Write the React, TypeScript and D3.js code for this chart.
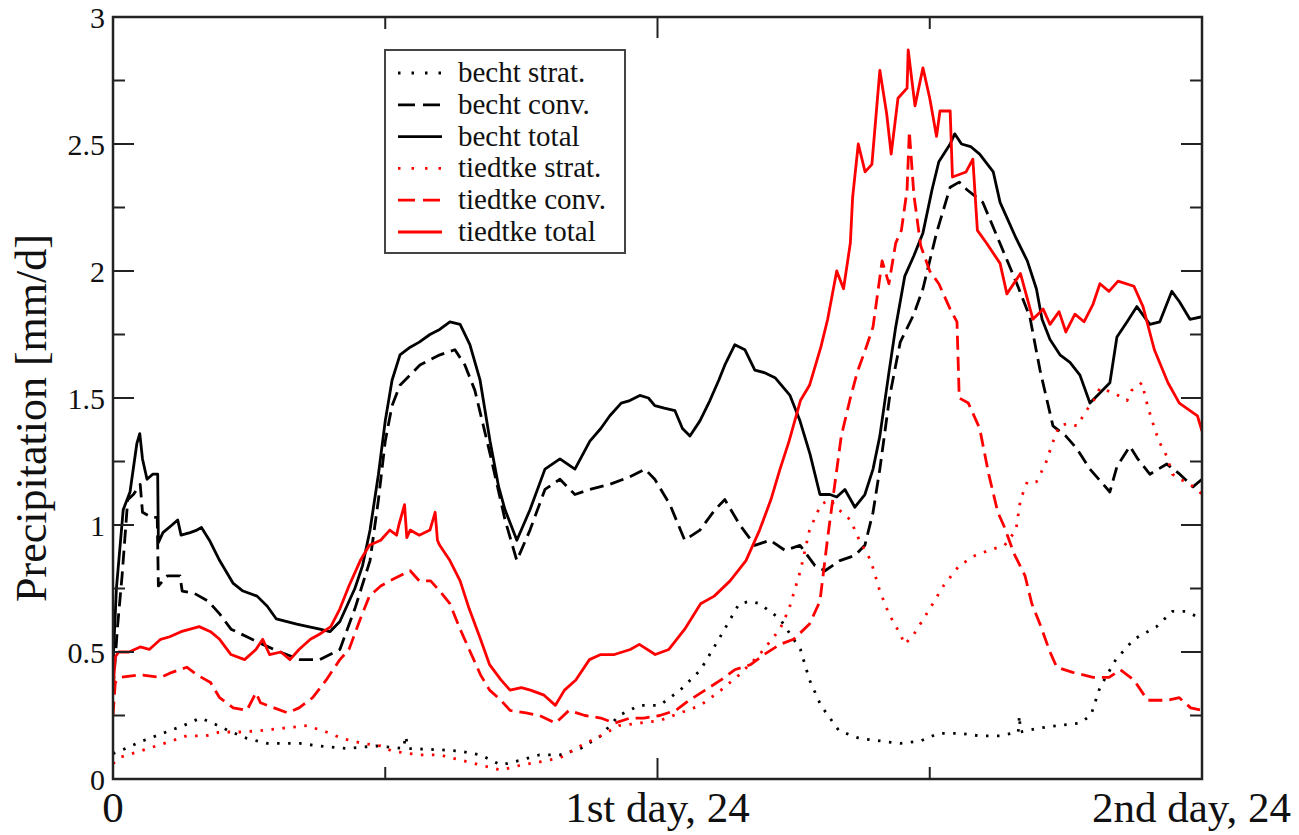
import React from 'react';
import * as d3 from 'd3';

type Pt = [number, number];

// hours since start, precipitation in mm/d
const bechtStrat: Pt[] = [
  [0,0.1],[0.3,0.11],[1.3,0.15],[2.2,0.18],[3.1,0.21],[3.85,0.24],[4.4,0.22],[5.1,0.19],[5.9,0.16],[6.8,0.14],[8.24,0.14],[9.1,0.13],[10.3,0.12],[11.6,0.13],[12.8,0.12],[12.9,0.17],[13.0,0.12],[14.4,0.115],[15.3,0.11],[16.2,0.095],[17.1,0.055],[18.0,0.075],[18.8,0.095],[19.7,0.095],[20.6,0.12],[21.5,0.17],[22.3,0.25],[23.2,0.29],[24.1,0.29],[25.0,0.35],[25.9,0.43],[26.7,0.55],[27.6,0.69],[28.1,0.7],[28.5,0.69],[29.4,0.63],[30.3,0.51],[30.7,0.39],[31.2,0.29],[32.0,0.19],[32.9,0.16],[33.8,0.15],[34.7,0.14],[35.6,0.15],[36.4,0.18],[37.3,0.18],[38.2,0.17],[39.1,0.17],[39.9,0.185],[39.95,0.25],[40.0,0.185],[40.8,0.2],[41.6,0.21],[42.6,0.22],[43.1,0.25],[43.5,0.36],[44.2,0.47],[45.0,0.55],[46.0,0.6],[46.7,0.66],[47.3,0.66],[48,0.63],
];

const bechtConv: Pt[] = [
  [0,0.35],[0.2,0.6],[0.4,0.8],[0.65,1.1],[0.9,1.12],[1.2,1.16],[1.3,1.05],[1.7,1.03],[1.95,1.03],[2.0,0.76],[2.4,0.8],[2.95,0.8],[3.05,0.74],[3.6,0.73],[4.2,0.7],[4.7,0.65],[5.2,0.59],[5.9,0.56],[6.6,0.53],[7.36,0.5],[8.24,0.47],[9.12,0.47],[10.0,0.51],[10.66,0.67],[11.33,0.86],[11.7,1.1],[12.0,1.33],[12.3,1.47],[12.65,1.55],[13.53,1.63],[14.41,1.67],[15.07,1.69],[15.51,1.63],[15.95,1.53],[16.3,1.4],[16.62,1.28],[17.28,1.02],[17.8,0.86],[18.38,0.98],[19.04,1.14],[19.7,1.18],[20.36,1.12],[21.02,1.14],[21.9,1.16],[22.78,1.19],[23.45,1.22],[23.88,1.18],[24.55,1.08],[25.2,0.94],[25.87,0.98],[26.53,1.06],[26.97,1.1],[27.63,1.0],[28.29,0.92],[28.96,0.94],[29.62,0.9],[30.28,0.92],[30.94,0.84],[31.38,0.82],[32.04,0.86],[32.7,0.88],[33.14,0.92],[33.5,1.05],[33.8,1.22],[34.24,1.51],[34.7,1.72],[35.3,1.83],[35.7,1.93],[36.3,2.15],[36.9,2.33],[37.3,2.35],[37.64,2.32],[38.34,2.27],[39.09,2.11],[39.84,1.95],[40.41,1.82],[40.86,1.61],[41.43,1.39],[42.0,1.35],[42.49,1.3],[43.06,1.22],[43.94,1.13],[44.25,1.23],[44.82,1.31],[45.17,1.26],[45.7,1.2],[46.45,1.24],[47.02,1.2],[47.6,1.15],[48,1.18],
];

const bechtTotal: Pt[] = [
  [0,0.45],[0.15,0.75],[0.45,1.06],[0.75,1.13],[1.05,1.32],[1.18,1.36],[1.3,1.26],[1.5,1.18],[1.75,1.2],[1.97,1.2],[2.0,0.93],[2.2,0.97],[2.6,1.0],[2.85,1.02],[3.0,0.96],[3.4,0.97],[3.7,0.98],[3.9,0.99],[4.25,0.94],[4.7,0.86],[5.3,0.77],[5.73,0.74],[6.35,0.72],[6.8,0.68],[7.2,0.63],[7.67,0.62],[8.1,0.61],[8.6,0.6],[9.12,0.59],[9.56,0.58],[10.0,0.62],[10.66,0.75],[11.0,0.84],[11.33,0.98],[11.7,1.2],[12.0,1.41],[12.3,1.57],[12.65,1.67],[13.1,1.7],[13.5,1.72],[13.97,1.75],[14.4,1.77],[14.85,1.8],[15.3,1.79],[15.73,1.71],[16.18,1.57],[16.62,1.33],[17.0,1.15],[17.28,1.06],[17.8,0.94],[18.38,1.06],[19.04,1.22],[19.7,1.26],[20.36,1.22],[21.02,1.33],[21.5,1.38],[21.9,1.43],[22.4,1.48],[22.78,1.49],[23.22,1.51],[23.6,1.5],[23.88,1.47],[24.3,1.46],[24.77,1.45],[25.1,1.38],[25.43,1.35],[25.87,1.41],[26.31,1.49],[26.7,1.57],[26.97,1.63],[27.41,1.71],[27.85,1.69],[28.29,1.61],[28.7,1.6],[29.18,1.58],[29.84,1.51],[30.28,1.41],[30.72,1.28],[31.16,1.12],[31.6,1.12],[31.9,1.11],[32.26,1.14],[32.7,1.07],[33.14,1.12],[33.5,1.22],[33.8,1.35],[34.2,1.6],[34.5,1.78],[34.9,1.98],[35.3,2.06],[35.7,2.15],[36.1,2.32],[36.4,2.43],[36.9,2.5],[37.1,2.54],[37.4,2.5],[37.8,2.49],[38.2,2.46],[38.8,2.39],[39.1,2.27],[39.4,2.21],[39.8,2.13],[40.3,2.04],[40.7,1.93],[40.95,1.81],[41.3,1.73],[41.74,1.67],[42.18,1.64],[42.62,1.59],[43.06,1.48],[43.5,1.52],[43.94,1.56],[44.25,1.74],[44.7,1.8],[45.13,1.86],[45.7,1.79],[46.14,1.8],[46.67,1.92],[47.0,1.88],[47.47,1.81],[48,1.82],
];

const tiedtkeStrat: Pt[] = [
  [0,0.06],[0.3,0.085],[1.2,0.11],[1.9,0.13],[2.6,0.15],[3.25,0.17],[4.1,0.17],[4.7,0.185],[5.6,0.185],[6.5,0.19],[7.5,0.2],[8.55,0.21],[9.4,0.185],[10.1,0.16],[11.0,0.14],[11.8,0.13],[12.3,0.11],[13.5,0.095],[14.4,0.095],[15.3,0.075],[16.2,0.055],[17.1,0.035],[18.0,0.055],[18.8,0.067],[19.7,0.083],[20.6,0.13],[21.5,0.17],[22.3,0.21],[23.2,0.22],[24.1,0.23],[25.0,0.26],[25.9,0.29],[26.8,0.35],[27.6,0.41],[28.5,0.49],[29.4,0.59],[29.8,0.67],[30.3,0.82],[30.7,0.98],[31.2,1.08],[31.6,1.1],[32.0,1.06],[32.5,1.02],[32.9,0.94],[33.4,0.86],[33.8,0.74],[34.2,0.65],[34.7,0.57],[34.9,0.53],[35.3,0.57],[36.0,0.67],[36.6,0.76],[37.3,0.84],[38.0,0.88],[38.6,0.9],[39.3,0.92],[39.8,0.98],[40.0,1.1],[40.3,1.17],[40.7,1.17],[41.1,1.24],[41.4,1.32],[41.7,1.39],[42.1,1.4],[42.5,1.39],[42.9,1.45],[43.3,1.5],[43.5,1.54],[44.1,1.52],[44.7,1.49],[44.9,1.53],[45.35,1.56],[45.6,1.47],[45.8,1.41],[46.1,1.33],[46.45,1.27],[46.7,1.2],[47.0,1.18],[47.3,1.17],[47.8,1.14],[48,1.12],
];

const tiedtkeConv: Pt[] = [
  [0,0.25],[0.1,0.38],[0.3,0.4],[1.2,0.41],[2.1,0.4],[2.6,0.42],[3.25,0.44],[3.7,0.41],[4.3,0.38],[4.7,0.32],[5.3,0.28],[5.9,0.27],[6.3,0.34],[6.5,0.3],[7.1,0.28],[7.7,0.26],[8.2,0.28],[8.8,0.32],[9.4,0.39],[10.0,0.47],[10.4,0.51],[10.9,0.63],[11.3,0.72],[11.8,0.76],[12.2,0.78],[12.65,0.8],[13.1,0.82],[13.5,0.78],[14.0,0.78],[14.4,0.74],[14.85,0.69],[15.3,0.59],[15.7,0.51],[16.2,0.41],[16.6,0.35],[17.1,0.31],[17.5,0.27],[18.2,0.26],[18.8,0.25],[19.5,0.22],[20.1,0.27],[20.8,0.25],[21.5,0.24],[22.1,0.22],[22.8,0.24],[23.4,0.24],[24.1,0.25],[24.8,0.27],[25.4,0.31],[26.1,0.35],[26.8,0.39],[27.4,0.43],[28.1,0.45],[28.7,0.49],[29.4,0.53],[30.0,0.55],[30.7,0.61],[31.16,0.7],[31.5,0.95],[31.8,1.15],[32.1,1.35],[32.5,1.5],[32.8,1.6],[33.2,1.7],[33.5,1.78],[33.9,2.04],[34.2,1.95],[34.5,2.11],[34.75,2.16],[35.0,2.32],[35.1,2.55],[35.3,2.3],[35.6,2.1],[36.0,2.0],[36.4,1.95],[36.9,1.85],[37.2,1.8],[37.3,1.5],[37.7,1.48],[38.2,1.38],[38.6,1.2],[39.0,1.05],[39.3,0.99],[39.7,0.89],[40.2,0.8],[40.5,0.69],[40.9,0.6],[41.3,0.5],[41.6,0.44],[42.3,0.42],[43.2,0.4],[43.9,0.4],[44.4,0.43],[45.0,0.39],[45.6,0.31],[46.5,0.31],[47.0,0.32],[47.5,0.28],[48,0.27],
];

const tiedtkeTotal: Pt[] = [
  [0,0.35],[0.1,0.48],[0.25,0.5],[0.7,0.5],[1.2,0.52],[1.6,0.51],[2.1,0.55],[2.5,0.56],[3.0,0.58],[3.4,0.59],[3.8,0.6],[4.3,0.58],[4.7,0.55],[5.2,0.49],[5.8,0.47],[6.3,0.51],[6.6,0.55],[6.9,0.49],[7.4,0.5],[7.8,0.47],[8.2,0.51],[8.7,0.55],[9.1,0.57],[9.6,0.6],[10.0,0.67],[10.4,0.76],[10.9,0.86],[11.3,0.92],[11.8,0.94],[12.2,0.98],[12.5,0.96],[12.6,1.0],[12.85,1.08],[12.95,0.95],[13.1,0.98],[13.5,0.96],[13.97,0.98],[14.2,1.05],[14.3,0.94],[14.4,0.92],[14.85,0.86],[15.3,0.78],[15.7,0.67],[16.2,0.55],[16.6,0.45],[17.1,0.39],[17.5,0.35],[18.0,0.36],[18.4,0.35],[19.0,0.33],[19.5,0.29],[19.9,0.35],[20.4,0.39],[21.0,0.47],[21.5,0.49],[22.1,0.49],[22.8,0.51],[23.2,0.53],[23.9,0.49],[24.5,0.51],[25.2,0.59],[25.9,0.69],[26.5,0.72],[27.2,0.78],[27.9,0.86],[28.5,0.98],[29.0,1.1],[29.4,1.22],[29.8,1.33],[30.3,1.49],[30.7,1.55],[31.2,1.7],[31.5,1.81],[31.9,2.0],[32.2,1.93],[32.5,2.11],[32.6,2.29],[32.85,2.5],[33.15,2.39],[33.45,2.42],[33.8,2.79],[34.1,2.62],[34.3,2.46],[34.6,2.68],[35.0,2.72],[35.05,2.87],[35.35,2.65],[35.7,2.8],[36.0,2.68],[36.3,2.53],[36.45,2.63],[36.9,2.63],[37.0,2.37],[37.6,2.39],[37.9,2.44],[38.1,2.16],[38.5,2.11],[39.1,2.03],[39.4,1.91],[40.0,1.99],[40.55,1.81],[41.0,1.85],[41.3,1.79],[41.7,1.84],[42.0,1.76],[42.4,1.83],[42.8,1.8],[43.2,1.87],[43.5,1.95],[43.9,1.92],[44.3,1.96],[45.0,1.94],[45.4,1.86],[45.9,1.69],[46.5,1.56],[47.0,1.48],[47.8,1.43],[48,1.37],
];

const seriesNames = ['becht strat.', 'becht conv.', 'becht total', 'tiedtke strat.', 'tiedtke conv.', 'tiedtke total'];
const seriesData = [bechtStrat, bechtConv, bechtTotal, tiedtkeStrat, tiedtkeConv, tiedtkeTotal];

const xTicks = [0, 24, 48];
const xTickLabels = ['0', '1st day, 24', '2nd day, 24'];
const xMinorTicks = [12, 36];
const yTicks = [0, 0.5, 1, 1.5, 2, 2.5, 3];
const yTickLabels = ['0', '0.5', '1', '1.5', '2', '2.5', '3'];
const yMinorTicks = [0.25, 0.75, 1.25, 1.75, 2.25, 2.75];

const W = 1299;
const H = 835;
const box = { left: 113, right: 1202, top: 17, bottom: 779 };
const FONT = "'Liberation Serif', 'DejaVu Serif', serif";

const styles = [
  { color: '#000', dash: '2.5 8.5', legendDash: '2.5 11' },
  { color: '#000', dash: '14 7', legendDash: '17 8' },
  { color: '#000', dash: null, legendDash: null },
  { color: '#ff0000', dash: '2.5 8.5', legendDash: '2.5 11' },
  { color: '#ff0000', dash: '14 7', legendDash: '17 8' },
  { color: '#ff0000', dash: null, legendDash: null },
];

export default function App() {
  const x = d3.scaleLinear().domain([0, 48]).range([box.left, box.right]);
  const y = d3.scaleLinear().domain([0, 3]).range([box.bottom, box.top]);
  const line = d3.line<Pt>().x(d => x(d[0])).y(d => y(d[1]));

  const major = 21;
  const minor = 12;
  const axisColor = '#222';
  const textStyle = { fontFamily: FONT };

  return (
    <svg width={W} height={H} style={{ position: 'absolute', left: 0, top: 0, background: '#fff' }}>
      <defs>
        <clipPath id="plotclip">
          <rect x={box.left} y={box.top - 10} width={box.right - box.left} height={box.bottom - box.top + 10} />
        </clipPath>
      </defs>

      <g clipPath="url(#plotclip)">
        {seriesData.map((s, i) => (
          <path
            key={seriesNames[i]}
            d={line(s) || ''}
            fill="none"
            stroke={styles[i].color}
            strokeWidth={2.8}
            strokeDasharray={styles[i].dash || undefined}
            strokeLinejoin="round"
          />
        ))}
      </g>

      {/* frame */}
      <rect x={box.left} y={box.top} width={box.right - box.left} height={box.bottom - box.top}
        fill="none" stroke={axisColor} strokeWidth={2.5} />

      {/* ticks on all four sides, pointing inward */}
      {xTicks.map(t => (
        <g key={'xt' + t}>
          <line x1={x(t)} x2={x(t)} y1={box.bottom} y2={box.bottom - major} stroke={axisColor} strokeWidth={2} />
          <line x1={x(t)} x2={x(t)} y1={box.top} y2={box.top + major} stroke={axisColor} strokeWidth={2} />
        </g>
      ))}
      {xMinorTicks.map(t => (
        <g key={'xm' + t}>
          <line x1={x(t)} x2={x(t)} y1={box.bottom} y2={box.bottom - minor} stroke={axisColor} strokeWidth={2} />
          <line x1={x(t)} x2={x(t)} y1={box.top} y2={box.top + minor} stroke={axisColor} strokeWidth={2} />
        </g>
      ))}
      {yTicks.map(t => (
        <g key={'yt' + t}>
          <line x1={box.left} x2={box.left + major} y1={y(t)} y2={y(t)} stroke={axisColor} strokeWidth={2} />
          <line x1={box.right} x2={box.right - major} y1={y(t)} y2={y(t)} stroke={axisColor} strokeWidth={2} />
        </g>
      ))}
      {yMinorTicks.map(t => (
        <g key={'ym' + t}>
          <line x1={box.left} x2={box.left + minor} y1={y(t)} y2={y(t)} stroke={axisColor} strokeWidth={2} />
          <line x1={box.right} x2={box.right - minor} y1={y(t)} y2={y(t)} stroke={axisColor} strokeWidth={2} />
        </g>
      ))}

      {/* tick labels */}
      {yTicks.map((t, i) => (
        <text key={'yl' + t} x={box.left - 8} y={y(t)} dy="0.35em" textAnchor="end"
          style={textStyle} fontSize={30} fill="#111">{yTickLabels[i]}</text>
      ))}
      {xTicks.map((t, i) => (
        <text key={'xl' + t}
          x={i === xTicks.length - 1 ? W - 8 : x(t)}
          y={822} textAnchor={i === xTicks.length - 1 ? 'end' : 'middle'}
          style={textStyle} fontSize={43} fill="#111">{xTickLabels[i]}</text>
      ))}

      {/* axis title */}
      <text transform={`translate(46,${(box.top + box.bottom) / 2 + 20}) rotate(-90)`} textAnchor="middle"
        style={textStyle} fontSize={44} fill="#111">Precipitation [mm/d]</text>

      {/* legend */}
      <rect x={385} y={50} width={240} height={203} fill="#fff" stroke="#444" strokeWidth={2} />
      {seriesNames.map((name, i) => {
        const cy = 73 + i * 31.8;
        return (
          <g key={'lg' + name}>
            <line x1={398} x2={442} y1={cy} y2={cy} stroke={styles[i].color} strokeWidth={2.8}
              strokeDasharray={styles[i].legendDash || undefined} />
            <text x={458} y={cy + 9} style={textStyle} fontSize={29} fill="#111">{name}</text>
          </g>
        );
      })}
    </svg>
  );
}
